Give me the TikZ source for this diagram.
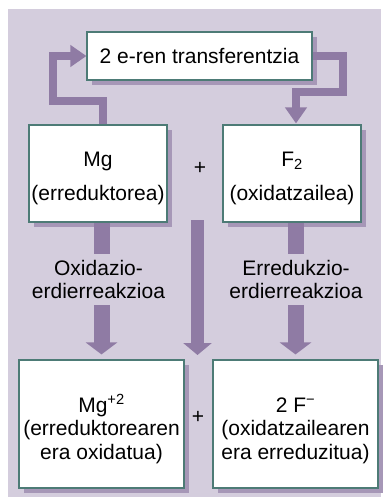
\documentclass[tikz,border=0pt]{standalone}
\usepackage{fontspec}
\setmainfont{Liberation Sans}
\usetikzlibrary{arrows.meta}
\usetikzlibrary{shadows}
\definecolor{bgpurple}{HTML}{D4CDDD}
\definecolor{arrowpurple}{HTML}{8F7BA4}
\definecolor{shadowpurple}{HTML}{A697B7}
\definecolor{boxteal}{HTML}{4D7B76}
\tikzset{
  box/.style={draw=boxteal, line width=1.1pt, fill=white, align=center, inner sep=0pt,
    drop shadow={shadow xshift=5pt, shadow yshift=-5pt, fill=shadowpurple, opacity=1}},
  smallbox/.style={box, minimum width=138pt, minimum height=97pt},
  bigbox/.style={box, minimum width=165pt, minimum height=128pt},
  halfreac/.style={align=center, inner sep=0pt, minimum height=51pt},
  loop/.style={draw=arrowpurple, line width=8pt, -{Triangle[width=21pt,length=16pt]}},
  fat/.style={draw=arrowpurple, line width=16pt},
  fathead/.style={fat, -{Triangle[width=31pt,length=12pt]}, shorten >=5pt}
}

\begin{document}
\begin{tikzpicture}[x=1pt, y=-1pt, font=\fontsize{21}{23.5}\selectfont]
\useasboundingbox (0,0) rectangle (383,503);
\fill[bgpurple] (8,9) rectangle (381,497);

\node[box, minimum width=225pt, minimum height=48pt] (transf) at (199.5,56) {2 e-ren transferentzia};
\node[smallbox] (mg) at (98,173.5) {\rule{0pt}{25pt}Mg\\[10.5pt](erreduktorea)};
\node[smallbox] (ftwo) at (292,173.5) {\rule{0pt}{25pt}F\textsubscript{2}\\[10.5pt](oxidatzailea)};
\node[bigbox] (mgion) at (101.5,424) {\rule{0pt}{28pt}Mg\textsuperscript{+2}\\(erreduktorearen\\era oxidatua)};
\node[bigbox] (fion) at (295.5,424) {\rule{0pt}{28pt}2 F\textsuperscript{−}\\(oxidatzailearen\\era erreduzitua)};
\node (plusa) at (200,168) {+};
\node (plusb) at (198,417) {+};
\node[halfreac] (oxlabel) at (98.5,279.5) {Oxidazio-\\erdierreakzioa};
\node[halfreac] (redlabel) at (296,279.5) {Erredukzio-\\erdierreakzioa};

\draw[loop] ([xshift=5pt]mg.north) |- (53,101) |- (transf.west);
\draw[loop] (transf.east) -| (343,91.5) -| ([xshift=4pt,yshift=1pt]ftwo.north);

\draw[fat] (mg.south -| mgion.north) -- (oxlabel.north -| mgion.north);
\draw[fathead] (oxlabel.south -| mgion.north) -- (mgion.north);
\draw[fat] (ftwo.south -| fion.north) -- (redlabel.north -| fion.north);
\draw[fathead] (redlabel.south -| fion.north) -- (fion.north);

\coordinate (midtop) at (197.5,220);
\coordinate (midend) at (197.5,360);
\draw[draw=arrowpurple, line width=13pt, -{Triangle[width=28pt,length=12pt]}, shorten >=5pt] (midtop) -- (midend);
\end{tikzpicture}
\end{document}
